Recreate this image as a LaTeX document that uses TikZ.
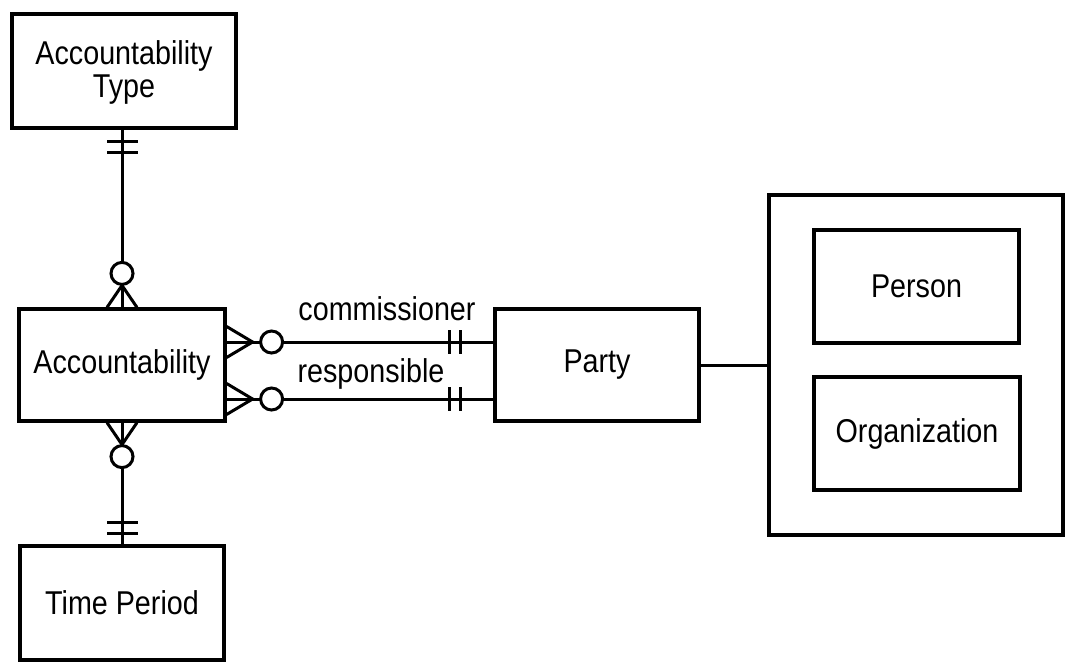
\documentclass[tikz,border=0pt]{standalone}
\usepackage{fontspec}
\setmainfont{Liberation Sans}[FakeStretch=0.87]
\usetikzlibrary{calc}
\begin{document}
\begin{tikzpicture}[x=1pt,y=-1pt,
  ent/.style={draw, line width=3.2pt, inner sep=0pt, align=center,
    font=\fontsize{33}{33}\selectfont},
  rel/.style={line width=3pt},
  lbl/.style={inner sep=0pt, anchor=base, font=\fontsize{33}{33}\selectfont},
  ring/.style={rel, fill=white}]
\useasboundingbox (0,0) rectangle (1080,670);
% entities
\node[ent, minimum width=224, minimum height=114] (atype) at (124,71)
  {\raisebox{-3pt}[\height][\depth]{\begin{tabular}{@{}c@{}}Accountability\\Type\end{tabular}}};
\node[ent, minimum width=206, minimum height=112] (acc) at (122,365) {Accountability};
\node[ent, minimum width=204, minimum height=114] (tp) at (122,603) {Time Period};
\node[ent, minimum width=204, minimum height=112] (party) at (597,365) {Party};
\node[ent, minimum width=294, minimum height=340] (super) at (916,365) {};
\node[ent, minimum width=205, minimum height=113] (person) at (916.5,286.5) {Person};
\node[ent, minimum width=206, minimum height=113] (org) at (917,433.5) {Organization};

% Accountability -- Accountability Type
\coordinate (tA) at ($(acc.north)+(0,-22)$);
\coordinate (tE) at (acc.north |- atype.south);
\draw[rel] ($(acc.north)+(-15,0)$) -- (tA) -- ($(acc.north)+(15,0)$);
\draw[rel] (acc.north) -- (tE);
\draw[ring] ($(acc.north)+(0,-34)$) circle (11);
\draw[rel] ($(tE)+(-15,12)$) -- ++(31,0);
\draw[rel] ($(tE)+(-15,23)$) -- ++(31,0);

% Accountability -- Time Period
\coordinate (bA) at ($(acc.south)+(0,22)$);
\coordinate (bE) at (acc.south |- tp.north);
\draw[rel] ($(acc.south)+(-15,0)$) -- (bA) -- ($(acc.south)+(15,0)$);
\draw[rel] (acc.south) -- (bE);
\draw[ring] ($(acc.south)+(0,34)$) circle (11);
\draw[rel] ($(bE)+(-15,-22)$) -- ++(31,0);
\draw[rel] ($(bE)+(-15,-11)$) -- ++(31,0);

% commissioner
\coordinate (c0) at (acc.east |- 0,342);
\coordinate (cA) at ($(c0)+(26,0)$);
\coordinate (cE) at (party.west |- c0);
\draw[rel] ($(c0)+(0,-15.5)$) -- (cA) -- ($(c0)+(0,15.5)$);
\draw[rel] (c0) -- (cE);
\draw[ring] ($(c0)+(45,0)$) circle (11);
\draw[rel] ($(cE)+(-44,-12)$) -- ++(0,24);
\draw[rel] ($(cE)+(-33,-12)$) -- ++(0,24);
\node[lbl] (lc) at (387,320) {commissioner};

% responsible
\coordinate (r0) at (acc.east |- 0,399);
\coordinate (rA) at ($(r0)+(26,0)$);
\coordinate (rE) at (party.west |- r0);
\draw[rel] ($(r0)+(0,-15.5)$) -- (rA) -- ($(r0)+(0,15.5)$);
\draw[rel] (r0) -- (rE);
\draw[ring] ($(r0)+(45,0)$) circle (11);
\draw[rel] ($(rE)+(-44,-12)$) -- ++(0,24);
\draw[rel] ($(rE)+(-33,-12)$) -- ++(0,24);
\node[lbl] (lr) at (371,382) {responsible};

% Party -- supertype
\draw[rel] (party.east) -- (super.west);
\end{tikzpicture}
\end{document}
